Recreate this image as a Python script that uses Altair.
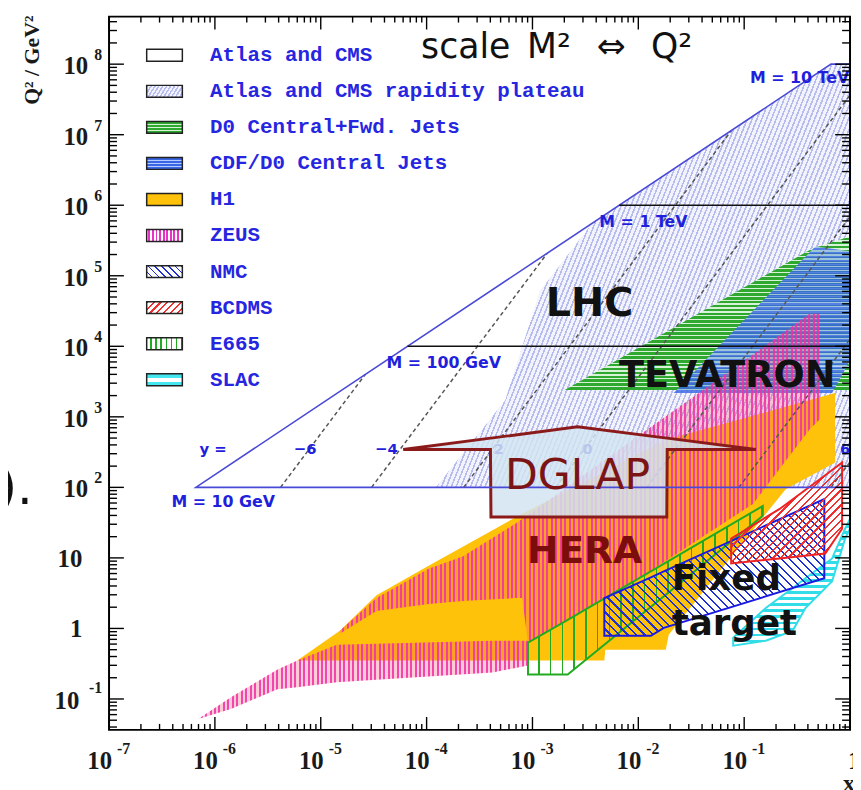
import math
import altair as alt
import pandas as pd

W, H = 748, 720

# ---------------- data: log10(x), log10(Q^2) ----------------
PLATEAU_X  = [-3.912, -3.257, -2.929, -2.433, -0.18, 0.0]
PLATEAU_LO = [2.0, 2.0, 2.0, 2.0, 2.0, 2.0]
PLATEAU_HI = [2.0, 3.239, 4.784, 5.75, 8.0, 8.0]

D0_X  = [-2.695, -0.356, 0.0]
D0_LO = [3.379, 3.379, 3.379]
D0_HI = [3.379, 5.388, 5.556]

CDF_X  = [-1.666, -0.328, -0.169, 0.0]
CDF_LO = [3.337, 3.337, 3.337, 3.80]
CDF_HI = [3.337, 5.416, 5.382, 5.346]

H1_X  = [-5.222, -4.820, -4.473, -3.977, -3.135, -2.321, -2.312, -1.741, -1.731, -1.713, -0.608, -0.141]
H1_LO = [-0.455, -0.455, -0.455, -0.455, -0.455, -0.455, -0.301, -0.301, -0.230, -0.090, 1.975, 2.354]
H1_HI = [-0.455, -0.034, 0.472, 0.893, 1.596, 2.223, 2.230, 2.670, 2.677, 2.685, 3.143, 3.337]

ZA_X  = [-6.158, -5.849, -5.409, -5.222, -4.848, -3.378, -3.042]
ZA_LO = [-1.284, -1.143, -0.862, -0.834, -0.764, -0.624, -0.525]
ZA_HI = [-1.284, -0.975, -0.581, -0.455, -0.230, -0.174, -0.174]

ZB_X  = [-4.820, -4.473, -3.977, -3.659, -3.163, -3.098, -3.042, -2.415, -1.919, -0.917, -0.384, -0.290]
ZB_LO = [-0.076, 0.247, 0.346, 0.388, 0.430, 0.430, -0.202, 0.346, 0.781, 1.764, 2.817, 2.958]
ZB_HI = [-0.034, 0.430, 0.851, 1.020, 1.483, 1.553, 1.610, 2.284, 2.817, 3.885, 4.461, 4.461]

E665_X  = [-3.042, -2.667, -0.824]
E665_LO = [-0.652, -0.652, 1.596]
E665_HI = [-0.202, 0.121, 1.736]

NMC_X  = [-2.321, -1.881, -1.759, -0.243]
NMC_LO = [-0.104, -0.104, 0.008, 0.711]
NMC_HI = [0.430, 0.725, 0.809, 1.834]

BCDMS_X  = [-1.123, -0.665, -0.234, -0.075]
BCDMS_LO = [0.921, 0.992, 1.062, 1.413]
BCDMS_HI = [1.272, 1.694, 2.171, 2.354]

SLAC_X  = [-1.104, -0.796, -0.543, -0.421, -0.169, -0.047, 0.0]
SLAC_LO = [-0.244, -0.174, -0.034, 0.289, 0.669, 1.272, 1.413]
SLAC_HI = [-0.132, 0.289, 0.570, 0.711, 0.992, 1.413, 1.553]

DGLAP_X  = [-4.221, -3.397, -3.392, -2.574, -1.731, -1.727, -0.889]
DGLAP_LO = [2.537, 2.537, 1.581, 1.581, 1.581, 2.537, 2.537]
DGLAP_HI = [2.537, 2.698, 2.698, 2.860, 2.698, 2.698, 2.537]

OUTLINE_X = [0.0, -6.18, -0.18, 0.0]
OUTLINE_Y = [2.0, 2.0, 8.0, 8.0]

MLINE_X0 = [-4.18, -2.18]
MLINE_X1 = [0.0, 0.0]
MLINE_Y  = [4.0, 6.0]

RAP_X0 = [-5.38, -4.52, -3.65, -2.78, -1.92, -1.05, -0.18]
RAP_Y0 = [2.0, 2.0, 2.0, 2.0, 2.0, 2.0, 2.0]
RAP_X1 = [-4.58, -2.86, -1.12, 0.0, 0.0, 0.0, 0.0]
RAP_Y1 = [3.60, 5.32, 7.06, 7.56, 5.84, 4.10, 2.36]

RAP_TXT = ["y =", "\u22126", "\u22124", "\u22122", "0", "6"]
RAP_TX  = [-6.017, -5.147, -4.380, -3.378, -2.480, -0.047]
RAP_TY  = 2.537

M_TXT = ["M = 10 GeV", "M = 100 GeV", "M = 1 TeV", "M = 10 TeV"]
M_TX  = [-6.410, -4.380, -2.368, -0.945]
M_TY  = [1.792, 3.758, 5.767, 7.803]

LEG_NAMES = ["Atlas and CMS", "Atlas and CMS rapidity plateau", "D0 Central+Fwd. Jets",
             "CDF/D0 Central Jets", "H1", "ZEUS", "NMC", "BCDMS", "E665", "SLAC"]

X_MAJOR = [1e-7, 1e-6, 1e-5, 1e-4, 1e-3, 1e-2, 1e-1, 1.0]
X_LAB_VALS = [1e-7, 1e-6, 1e-5, 1e-4, 1e-3, 1e-2, 1e-1]
X_LAB_EXP = ["-7", "-6", "-5", "-4", "-3", "-2", "-1"]
Y_MAJOR = [1e-1, 1.0, 1e1, 1e2, 1e3, 1e4, 1e5, 1e6, 1e7, 1e8]
Y_EXP_VALS = [1e8, 1e7, 1e6, 1e5, 1e4, 1e3, 1e2]
Y_EXP_TXT = ["8", "7", "6", "5", "4", "3", "2"]
Y_PLAIN_VALS = [10.0, 1.0]
Y_PLAIN_TXT = ["10", "1"]

Y_LO_EXP, Y_HI_EXP = -1.438, 8.674
X_MINOR = [m * d for d in X_MAJOR[:-1] for m in range(2, 10)]
Y_MINOR = [m * 10.0 ** e for e in range(-2, 9) for m in range(2, 10)
           if Y_LO_EXP <= math.log10(m * 10.0 ** e) <= Y_HI_EXP]

xs = alt.Scale(type="log", domain=[1e-7, 1.0], nice=False)
ys = alt.Scale(type="log", domain=[10 ** Y_LO_EXP, 10 ** Y_HI_EXP], nice=False)

SERIF = "Liberation Serif"
SANS = "DejaVu Sans"
BLUE_TXT = "#1f1fdc"


def stripes(bw, bh, dx, dy, period, line_col, bg_col, frac):
    nrm = math.hypot(dx, dy)
    nx, ny = -dy / nrm, dx / nrm
    vx, vy = nx * bw, ny * bh
    u0 = 0.0 if vx >= 0 else 1.0
    w0 = 0.0 if vy >= 0 else 1.0
    k = (abs(vx) + abs(vy)) / (vx * vx + vy * vy)
    x2, y2 = u0 + k * vx, w0 + k * vy
    L = abs(nx) * bw + abs(ny) * bh
    n = max(1, int(round(L / period)))
    stops = []
    for i in range(n):
        a, b, c = i / n, (i + frac) / n, (i + 1) / n
        stops += [alt.GradientStop(offset=a, color=line_col),
                  alt.GradientStop(offset=b, color=line_col),
                  alt.GradientStop(offset=b, color=bg_col),
                  alt.GradientStop(offset=c, color=bg_col)]
    return alt.LinearGradient(gradient="linear", stops=stops, x1=u0, y1=w0, x2=x2, y2=y2)


def region(xl, lo, hi):
    return pd.DataFrame({"x": [10 ** v for v in xl],
                         "lo": [10 ** v for v in lo],
                         "hi": [10 ** v for v in hi]})


def area(df, fill, stroke=None, sw=0.0, fo=1.0):
    kw = dict(fill=fill, clip=True, fillOpacity=fo, interpolate="linear")
    if stroke:
        kw.update(stroke=stroke, strokeWidth=sw)
    else:
        kw.update(strokeWidth=0)
    return alt.Chart(df).mark_area(**kw).encode(
        x=alt.X("x:Q", scale=xs, axis=None),
        y=alt.Y("hi:Q", scale=ys, axis=None),
        y2="lo:Q")


TRANSP = "rgba(255,255,255,0)"
ZEUS_LINE = "rgba(240,50,165,0.9)"
ZEUS_GAP = "rgba(255,70,110,0.28)"
PLAT_LINE, PLAT_BG = "#b7bcee", "#f2f3fc"
layers = []

# regions
layers.append(area(region(PLATEAU_X, PLATEAU_LO, PLATEAU_HI),
                   stripes(418, 426, 1, -2.5, 4.5, PLAT_LINE, PLAT_BG, 0.35)))
layers.append(area(region(D0_X, D0_LO, D0_HI),
                   stripes(288, 155, 1, 0, 4, "#d8f2d8", "#2fa82f", 0.3)))
layers.append(area(region(CDF_X, CDF_LO, CDF_HI),
                   stripes(178, 148, 1, 0, 4, "#b4ccff", "#3a66e6", 0.3), fo=0.82))
layers.append(area(region(H1_X, H1_LO, H1_HI), "#ffc20a"))
layers.append(area(region(ZA_X, ZA_LO, ZA_HI),
                   stripes(333, 79, 0, 1, 4.5, ZEUS_LINE, ZEUS_GAP, 0.45)))
layers.append(area(region(ZB_X, ZB_LO, ZB_HI),
                   stripes(484, 324, 0, 1, 4.5, ZEUS_LINE, ZEUS_GAP, 0.45)))
layers.append(area(region(E665_X, E665_LO, E665_HI),
                   stripes(237, 170, 0, 1, 12, "#22aa22", TRANSP, 0.14), stroke="#22aa22", sw=2))
layers.append(area(region(SLAC_X, SLAC_LO, SLAC_HI),
                   stripes(118, 128, 1, 0, 6, "#33dde8", TRANSP, 0.45), stroke="#33dde8", sw=2))
layers.append(area(region(NMC_X, NMC_LO, NMC_HI),
                   stripes(222, 138, 1, 1, 6, "#2030d0", TRANSP, 0.25), stroke="#1a1ae0", sw=2))
layers.append(area(region(BCDMS_X, BCDMS_LO, BCDMS_HI),
                   stripes(112, 102, 1, -1, 5.5, "#ee3030", TRANSP, 0.3), stroke="#ee2222", sw=2))

# rapidity dashed lines
rap_rows = []
for i in range(len(RAP_X0)):
    rap_rows.append({"k": i, "x": 10 ** RAP_X0[i], "y": 10 ** RAP_Y0[i]})
    rap_rows.append({"k": i, "x": 10 ** RAP_X1[i], "y": 10 ** RAP_Y1[i]})
layers.append(alt.Chart(pd.DataFrame(rap_rows)).mark_line(
    color="#555555", strokeWidth=1.5, strokeDash=[4, 3], clip=True).encode(
    x=alt.X("x:Q", scale=xs, axis=None), y=alt.Y("y:Q", scale=ys, axis=None), detail="k:N"))

layers.append(alt.Chart(pd.DataFrame({"t": RAP_TXT, "x": [10 ** v for v in RAP_TX],
                                      "y": [10 ** RAP_TY] * len(RAP_TX)})).mark_text(
    font=SANS, fontWeight="bold", fontSize=15, color=BLUE_TXT, align="center", baseline="middle").encode(
    x=alt.X("x:Q", scale=xs, axis=None), y=alt.Y("y:Q", scale=ys, axis=None), text="t:N"))

# DGLAP arrow
layers.append(area(region(DGLAP_X, DGLAP_LO, DGLAP_HI), "#d2e4f1", stroke="#8b1a1a", sw=3, fo=0.85))

# kinematic outline and M lines
layers.append(alt.Chart(pd.DataFrame({"i": list(range(len(OUTLINE_X))),
                                      "x": [10 ** v for v in OUTLINE_X],
                                      "y": [10 ** v for v in OUTLINE_Y]})).mark_line(
    color="#4a4ad8", strokeWidth=1.6, clip=True).encode(
    x=alt.X("x:Q", scale=xs, axis=None), y=alt.Y("y:Q", scale=ys, axis=None), order="i:Q"))
layers.append(alt.Chart(pd.DataFrame({"x0": [10 ** v for v in MLINE_X0], "x1": [10 ** v for v in MLINE_X1],
                                      "y": [10 ** v for v in MLINE_Y]})).mark_rule(
    color="#111111", strokeWidth=1.6).encode(
    x=alt.X("x0:Q", scale=xs, axis=None), x2="x1:Q", y=alt.Y("y:Q", scale=ys, axis=None)))

layers.append(alt.Chart(pd.DataFrame({"t": M_TXT, "x": [10 ** v for v in M_TX],
                                      "y": [10 ** v for v in M_TY]})).mark_text(
    font=SANS, fontWeight="bold", fontSize=16, color=BLUE_TXT, align="left", baseline="middle").encode(
    x=alt.X("x:Q", scale=xs, axis=None), y=alt.Y("y:Q", scale=ys, axis=None), text="t:N"))

# big labels
BIG = [("LHC", -2.461, 4.433, 40, "#111111", "bold", "center"),
       ("TEVATRON", -1.161, 3.421, 37, "#111111", "bold", "center"),
       ("DGLAP", -2.574, 1.975, 43, "#7b1515", "normal", "center"),
       ("HERA", -2.508, 0.921, 38, "#7b0d0d", "bold", "center"),
       ("Fixed", -1.685, 0.542, 36, "#111111", "bold", "left"),
       ("target", -1.685, -0.090, 36, "#111111", "bold", "left")]
for t, bx, by, fs, col, fw, al in BIG:
    layers.append(alt.Chart(pd.DataFrame({"x": [10 ** bx], "y": [10 ** by]})).mark_text(
        text=t, font=SANS, fontSize=fs, fontWeight=fw, color=col, align=al, baseline="alphabetic").encode(
        x=alt.X("x:Q", scale=xs, axis=None), y=alt.Y("y:Q", scale=ys, axis=None)))

# title pieces
one = pd.DataFrame({"a": [0]})
for t, px in [("scale", 315), ("M\u00b2", 422), ("\u21d4", 492), ("Q\u00b2", 547)]:
    layers.append(alt.Chart(one).mark_text(text=t, font=SANS, fontSize=35, color="#111111",
                                           align="left", baseline="alphabetic").encode(
        x=alt.value(px), y=alt.value(42)))

# legend
LEG_FILLS = [
    "white",
    stripes(36, 12, 1, -1.6, 3.5, PLAT_LINE, PLAT_BG, 0.45),
    stripes(36, 12, 1, 0, 3, "#d8f2d8", "#2fa82f", 0.3),
    stripes(36, 12, 1, 0, 3, "#b4ccff", "#3a66e6", 0.3),
    "#ffc20a",
    stripes(36, 12, 0, 1, 3.5, "#e832c8", "white", 0.5),
    stripes(36, 12, 1, 1, 5, "#2030d0", "white", 0.25),
    stripes(36, 12, 1, -1, 5, "#ee3030", "white", 0.3),
    stripes(36, 12, 0, 1, 5, "#22aa22", "white", 0.3),
    alt.LinearGradient(gradient="linear", x1=0, y1=0, x2=0, y2=1, stops=[
        alt.GradientStop(offset=0, color="#44e6f0"), alt.GradientStop(offset=0.33, color="#44e6f0"),
        alt.GradientStop(offset=0.33, color="white"), alt.GradientStop(offset=0.67, color="white"),
        alt.GradientStop(offset=0.67, color="#44e6f0"), alt.GradientStop(offset=1, color="#44e6f0")]),
]
for i, name in enumerate(LEG_NAMES):
    cy = 39 + 36.4 * i
    layers.append(alt.Chart(one).mark_rect(fill=LEG_FILLS[i], stroke="#222222", strokeWidth=1.5).encode(
        x=alt.value(38), x2=alt.value(74), y=alt.value(cy - 6), y2=alt.value(cy + 6)))
    layers.append(alt.Chart(one).mark_text(text=name, font="Liberation Mono", fontWeight="bold",
                                           fontSize=21, color="#2626e0", align="left",
                                           baseline="middle").encode(
        x=alt.value(102), y=alt.value(cy)))

# frame
layers.append(alt.Chart(one).mark_rect(fillOpacity=0, stroke="black", strokeWidth=2).encode(
    x=alt.value(0), x2=alt.value(W), y=alt.value(0), y2=alt.value(H)))

# ticks
def xticks(vals, ln):
    d = pd.DataFrame({"v": vals})
    bot = alt.Chart(d).mark_rule(color="black", strokeWidth=1.4).encode(
        x=alt.X("v:Q", scale=xs, axis=None), y=alt.value(H), y2=alt.value(H - ln))
    top = alt.Chart(d).mark_rule(color="black", strokeWidth=1.4).encode(
        x=alt.X("v:Q", scale=xs, axis=None), y=alt.value(0), y2=alt.value(ln))
    return [bot, top]


def yticks(vals, ln):
    d = pd.DataFrame({"v": vals})
    lft = alt.Chart(d).mark_rule(color="black", strokeWidth=1.4).encode(
        y=alt.Y("v:Q", scale=ys, axis=None), x=alt.value(0), x2=alt.value(ln))
    rgt = alt.Chart(d).mark_rule(color="black", strokeWidth=1.4).encode(
        y=alt.Y("v:Q", scale=ys, axis=None), x=alt.value(W), x2=alt.value(W - ln))
    return [lft, rgt]


layers += xticks(X_MAJOR, 13) + xticks(X_MINOR, 6) + yticks(Y_MAJOR, 15) + yticks(Y_MINOR, 8)

# tick labels
lab = dict(font=SERIF, fontWeight="bold", color="#1a1a1a")
dfy = pd.DataFrame({"v": Y_EXP_VALS, "e": Y_EXP_TXT})
layers.append(alt.Chart(dfy).mark_text(text="10", fontSize=25, align="right", baseline="alphabetic",
                                       dy=10, **lab).encode(
    y=alt.Y("v:Q", scale=ys, axis=None), x=alt.value(-21)))
layers.append(alt.Chart(dfy).mark_text(fontSize=16, align="right", baseline="alphabetic", dy=-4, **lab).encode(
    y=alt.Y("v:Q", scale=ys, axis=None), x=alt.value(-7), text="e:N"))
dfp = pd.DataFrame({"v": Y_PLAIN_VALS, "t": Y_PLAIN_TXT})
layers.append(alt.Chart(dfp).mark_text(fontSize=25, align="right", baseline="alphabetic", dy=9, **lab).encode(
    y=alt.Y("v:Q", scale=ys, axis=None), x=alt.value(-27), text="t:N"))
dfn = pd.DataFrame({"v": [0.1]})
layers.append(alt.Chart(dfn).mark_text(text="10", fontSize=25, align="right", baseline="alphabetic",
                                       dy=10, **lab).encode(
    y=alt.Y("v:Q", scale=ys, axis=None), x=alt.value(-30)))
layers.append(alt.Chart(dfn).mark_text(text="-1", fontSize=16, align="right", baseline="alphabetic",
                                       dy=-6, **lab).encode(
    y=alt.Y("v:Q", scale=ys, axis=None), x=alt.value(-7)))

dfx = pd.DataFrame({"v": X_LAB_VALS, "e": X_LAB_EXP})
layers.append(alt.Chart(dfx).mark_text(text="10", fontSize=25, align="right", baseline="alphabetic",
                                       dx=3, **lab).encode(
    x=alt.X("v:Q", scale=xs, axis=None), y=alt.value(H + 39)))
layers.append(alt.Chart(dfx).mark_text(fontSize=16, align="left", baseline="alphabetic", dx=8, **lab).encode(
    x=alt.X("v:Q", scale=xs, axis=None), y=alt.value(H + 24), text="e:N"))
layers.append(alt.Chart(pd.DataFrame({"v": [1.0]})).mark_text(text="1", fontSize=25, align="left",
                                                              baseline="alphabetic", dx=-2, **lab).encode(
    x=alt.X("v:Q", scale=xs, axis=None), y=alt.value(H + 39)))
layers.append(alt.Chart(one).mark_text(text="x", fontSize=24, align="center", baseline="alphabetic",
                                       **lab).encode(x=alt.value(747), y=alt.value(H + 62)))

# axis title and stray slide text
layers.append(alt.Chart(one).mark_text(text="Q\u00b2 / GeV\u00b2", fontSize=22, angle=270, align="center",
                                       baseline="middle", **lab).encode(
    x=alt.value(-78), y=alt.value(44)))
layers.append(alt.Chart(one).mark_text(text=").", font=SANS, fontSize=50, color="#111111", align="right",
                                       baseline="alphabetic").encode(
    x=alt.value(-77), y=alt.value(492)))

chart = alt.layer(*layers).properties(
    width=W, height=H,
    padding={"left": 102, "top": 5, "right": 3, "bottom": 57},
    autosize=alt.AutoSizeParams(type="none"),
    background="white",
).configure_view(strokeWidth=0)

chart.save("out.html", embed_options={"renderer": "svg", "actions": False})
